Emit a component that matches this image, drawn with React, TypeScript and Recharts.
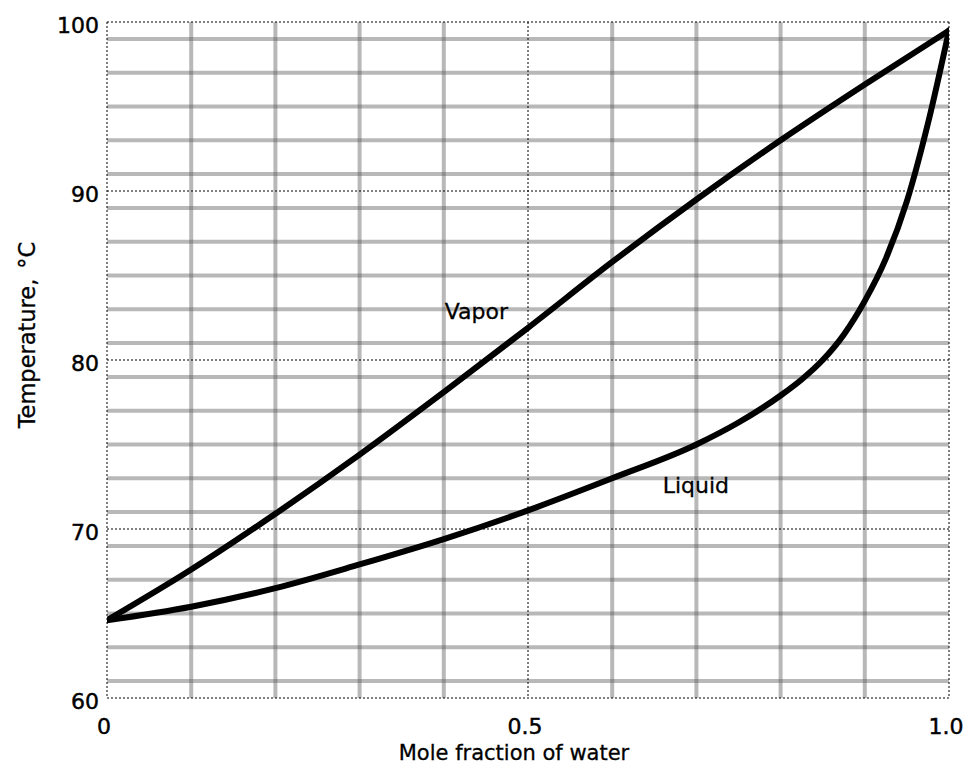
import React from 'react';
import {
  LineChart,
  Line,
  XAxis,
  YAxis,
  CartesianGrid,
  ReferenceDot,
  Label,
} from 'recharts';

// Vapor curve (mole fraction of water vs temperature, °C)
const vaporX = [0, 0.1, 0.2, 0.3, 0.4, 0.5, 0.6, 0.7, 0.8, 0.9, 1.0];
const vaporT = [64.6, 67.6, 70.9, 74.4, 78.1, 81.9, 85.8, 89.5, 93.0, 96.3, 99.5];

// Liquid curve
const liquidX = [0, 0.1, 0.2, 0.3, 0.4, 0.5, 0.6, 0.7, 0.75, 0.8, 0.825, 0.85, 0.875, 0.9, 0.925, 0.95, 0.975, 1.0];
const liquidT = [64.6, 65.4, 66.5, 67.9, 69.4, 71.1, 73.0, 75.0, 76.3, 77.9, 78.85, 80.0, 81.5, 83.5, 86.0, 89.4, 94.0, 99.5];

// Axis ticks
const xTicks = [0, 0.5, 1];
const xTickLabels = ['0', '0.5', '1.0'];
const yTicks = [60, 70, 80, 90, 100];

// Grid values
const minorY = [61, 62, 63, 64, 65, 66, 67, 68, 69, 71, 72, 73, 74, 75, 76, 77, 78, 79, 81, 82, 83, 84, 85, 86, 87, 88, 89, 91, 92, 93, 94, 95, 96, 97, 98, 99];
const minorX = [0.1, 0.2, 0.3, 0.4, 0.6, 0.7, 0.8, 0.9];
const majorY = [60, 70, 80, 90, 100];
const majorX = [0, 0.5, 1];

// Curve labels (data coordinates)
const vaporLabel = { x: 0.401, y: 82.43, text: 'Vapor' };
const liquidLabel = { x: 0.66, y: 72.12, text: 'Liquid' };

const vaporData = vaporX.map((x, i) => ({ x, t: vaporT[i] }));
const liquidData = liquidX.map((x, i) => ({ x, t: liquidT[i] }));

const FONT = '"DejaVu Sans", sans-serif';
const textStyle = { fill: '#000', stroke: '#000', strokeWidth: 0.45, fontFamily: FONT };

const XTick = (props: any) => {
  const { x, y, payload } = props;
  return (
    <text x={x - 3} y={y} dy={16} textAnchor="middle" fontSize={22} {...textStyle}>
      {xTickLabels[xTicks.indexOf(payload.value)]}
    </text>
  );
};

const YTick = (props: any) => {
  const { x, y, payload } = props;
  return (
    <text x={x} y={y} dy={11} textAnchor="end" fontSize={22} {...textStyle}>
      {payload.value}
    </text>
  );
};

export default function App() {
  return (
    <div style={{ position: 'absolute', left: 0, top: 0, background: '#fff' }}>
      <LineChart
        width={978}
        height={777}
        margin={{ top: 22, right: 29, bottom: 0, left: 0 }}
      >
        <CartesianGrid
          horizontalValues={minorY}
          verticalValues={minorX}
          stroke="#555"
          strokeOpacity={0.42}
          strokeWidth={4}
        />
        <CartesianGrid
          horizontalValues={majorY}
          verticalValues={majorX}
          stroke="#000"
          strokeWidth={1}
          strokeDasharray="2 2"
        />
        <XAxis
          type="number"
          dataKey="x"
          domain={[0, 1]}
          ticks={xTicks}
          axisLine={false}
          tickLine={false}
          tickSize={0}
          tickMargin={20}
          height={79}
          allowDataOverflow
          tick={<XTick />}
        >
          <Label
            content={() => (
              <text x={514} y={760} textAnchor="middle" fontSize={21} {...textStyle} strokeWidth={0.3}>
                Mole fraction of water
              </text>
            )}
          />
        </XAxis>
        <YAxis
          type="number"
          domain={[60, 100]}
          ticks={yTicks}
          axisLine={false}
          tickLine={false}
          tickSize={0}
          tickMargin={8}
          width={107}
          allowDataOverflow
          tick={<YTick />}
        >
          <Label
            content={() => (
              <text
                x={35}
                y={335}
                transform="rotate(-90 35 335)"
                textAnchor="middle"
                fontSize={22.5}
                {...textStyle}
                strokeWidth={0.3}
              >
                Temperature,<tspan dx={10}>°C</tspan>
              </text>
            )}
          />
        </YAxis>
        <Line
          data={vaporData}
          dataKey="t"
          type="monotone"
          stroke="#000"
          strokeWidth={6}
          strokeLinejoin="round"
          strokeLinecap="round"
          dot={false}
          activeDot={false}
          isAnimationActive={false}
        />
        <Line
          data={liquidData}
          dataKey="t"
          type="monotone"
          stroke="#000"
          strokeWidth={6}
          strokeLinejoin="round"
          strokeLinecap="round"
          dot={false}
          activeDot={false}
          isAnimationActive={false}
        />
        <ReferenceDot
          x={vaporLabel.x}
          y={vaporLabel.y}
          r={0}
          fill="none"
          stroke="none"
          label={(p: any) => (
            <text x={p.viewBox.x} y={p.viewBox.y} fontSize={22} {...textStyle} strokeWidth={0.3}>
              {vaporLabel.text}
            </text>
          )}
        />
        <ReferenceDot
          x={liquidLabel.x}
          y={liquidLabel.y}
          r={0}
          fill="none"
          stroke="none"
          label={(p: any) => (
            <text x={p.viewBox.x} y={p.viewBox.y} fontSize={22} {...textStyle} strokeWidth={0.3}>
              {liquidLabel.text}
            </text>
          )}
        />
      </LineChart>
    </div>
  );
}
